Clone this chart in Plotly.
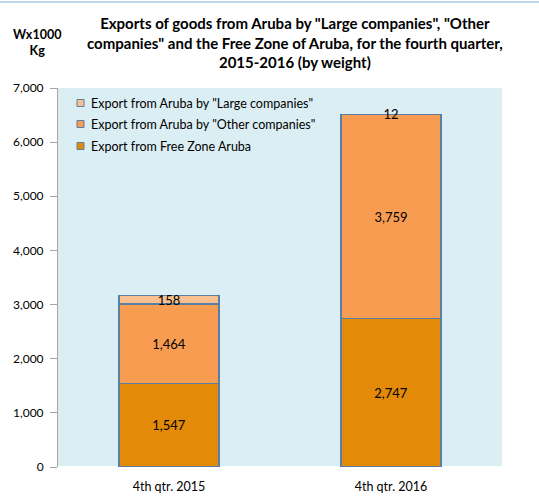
import plotly.graph_objects as go

categories = ["4th qtr. 2015", "4th qtr. 2016"]
free_zone = [1547, 2747]
other_companies = [1464, 3759]
large_companies = [158, 12]

series_names = [
    "Export from Free Zone Aruba",
    'Export from Aruba by "Other companies"',
    'Export from Aruba by "Large companies"',
]
colors = ["#E38A09", "#F79C51", "#FAC08F"]
font_family = "Lato, Carlito, Open Sans, sans-serif"

L, R, T, B = 58, 37, 88, 32
W, H = 539, 499
pw, ph = W - L - R, H - T - B

def px(x):
    return (x - L) / pw

def py(y):
    return (H - B - y) / ph

fig = go.Figure()
for name, vals, col in zip(series_names, [free_zone, other_companies, large_companies], colors):
    fig.add_trace(go.Bar(
        x=categories, y=vals, name=name,
        marker=dict(color=col, line=dict(color="#5A7FA6", width=1.2)),
        text=[f"{v:,}" for v in vals], textposition="inside",
        insidetextanchor="middle", textangle=0,
        textfont=dict(color="#000000", size=13, family=font_family),
        constraintext="none", cliponaxis=False, showlegend=False,
    ))

annotations = [
    dict(text="<b>Exports of goods from Aruba by \"Large companies\", \"Other<br>companies\" and the Free Zone of Aruba, for the fourth quarter,<br>2015-2016 (by weight)</b>",
         x=px(295), y=py(12), xref="paper", yref="paper", xanchor="center", yanchor="top",
         showarrow=False, font=dict(size=15, family=font_family)),
    dict(text="<b>Wx1000<br>Kg</b>", x=px(37), y=py(42), xref="paper", yref="paper",
         xanchor="center", yanchor="middle",
         showarrow=False, font=dict(size=12.5, family=font_family)),
]
shapes = [dict(type="line", xref="paper", yref="paper", x0=px(0), x1=px(W), y0=py(2), y1=py(2),
               line=dict(color="#BDD7EE", width=2))]

# manual legend (top entry = last series)
legend_rows = [103, 124, 146]
for row_y, name, col in zip(legend_rows, series_names[::-1], colors[::-1]):
    shapes.append(dict(type="rect", xref="paper", yref="paper",
                       x0=px(77), x1=px(84), y0=py(row_y - 3.5), y1=py(row_y + 3.5),
                       fillcolor=col, line=dict(color="#5A7FA6", width=1)))
    annotations.append(dict(text=name, x=px(89), y=py(row_y), xref="paper", yref="paper",
                            xanchor="left", yanchor="middle", showarrow=False,
                            font=dict(size=12.5, family=font_family)))

fig.update_layout(
    barmode="stack",
    bargap=0.55,
    width=W, height=H,
    margin=dict(l=L, r=R, t=T, b=B, autoexpand=False),
    paper_bgcolor="white",
    plot_bgcolor="#DBEEF4",
    font=dict(family=font_family, size=11, color="#000000"),
    uniformtext=dict(minsize=13, mode="show"),
    showlegend=False,
    xaxis=dict(showgrid=False, showline=False, ticks="", ticklabelstandoff=10,
               automargin=False, tickfont=dict(size=12.5)),
    yaxis=dict(range=[0, 7000], dtick=1000, tickformat=",", showgrid=False,
               showline=True, linecolor="#A6A6A6", linewidth=1, automargin=False,
               ticks="outside", ticklen=7, tickcolor="#A6A6A6", ticklabelstandoff=4,
               tickfont=dict(size=12)),
    annotations=annotations,
    shapes=shapes,
)
fig.write_html("out.html", config={"displayModeBar": False},
               post_script="document.body.style.margin='0px';")
